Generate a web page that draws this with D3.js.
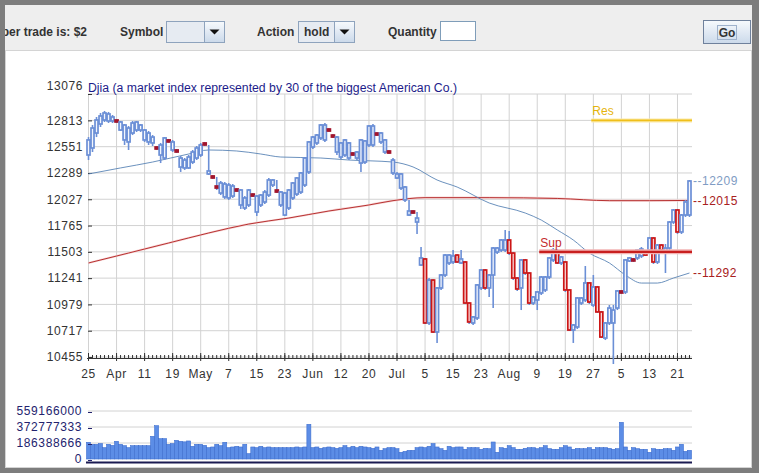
<!DOCTYPE html>
<html lang="en">
<head>
  <meta charset="UTF-8">
  <title>Djia</title>
  <script src="https://d3js.org/d3.v7.min.js"></script>
  <style>
    body { margin: 0; background: #7d7d7d; overflow: hidden; }
    svg { display: block; font-family: "Liberation Sans", Arial, sans-serif; }
  </style>
</head>
<body>
<svg id="chart" width="759" height="473"></svg>
<script>
// daily candles (Djia)
const open = [
  12468,12538,12687,12777,12817,12807,12807,12817,12717,12618,
  12598,12687,12717,12717,12618,12598,12588,12548,12468,12438,
  12618,12518,12518,12348,12339,12339,12398,12438,12468,12588,
  12279,12259,12159,12089,12050,12040,12059,12129,11970,11940,
  11970,12079,11900,11970,12000,12069,12169,12119,11970,11870,
  11940,12040,12079,12099,12169,12299,12548,12588,12638,12618,
  12727,12667,12498,12448,12468,12438,12488,12438,12388,12398,
  12568,12568,12687,12598,12498,12508,
  12289,12239,12139,12020,11870,11910,11800,11372,11432,10794,
  11222,10704,11143,11272,11392,11402,
  11471,11392,11402,10993,10794,10844,11143,11322,11143,11272,
  11501,11521,11521,11621,11491,11242,11143,11422,11292,10993,
  11023,11093,11123,11252,11422,11501,11392,11402,11123,10724,
  10754,10993,11023,11193,10973,11153,10904,10644,10794,10794,
  10943,11113,11103,11412,11432,11442,11462,
  11511,11521,11641,11402,11571,11501,11541,11800,11920,11701,11870,11870
];
const high = [
  12647,12767,12847,12887,12907,12897,12867,12827,12807,12777,
  12757,12807,12807,12777,12727,12707,12667,12558,12588,12647,
  12628,12618,12528,12458,12438,12468,12518,12558,12588,12598,
  12568,12269,12249,12209,12199,12189,12179,12139,12129,12059,
  12129,12089,12069,12079,12119,12239,12229,12219,12109,12099,
  12129,12199,12249,12299,12448,12608,12657,12677,12777,12787,
  12737,12677,12657,12598,12628,12598,12498,12508,12628,12618,
  12767,12777,12697,12697,12628,12518,
  12438,12299,12289,12159,12020,11920,11900,11551,11442,11242,
  11232,11153,11282,11481,11481,11521,
  11481,11521,11412,11003,10864,11183,11332,11332,11282,11551,
  11551,11631,11721,11711,11501,11252,11432,11432,11302,11063,
  11113,11262,11262,11452,11541,11531,11462,11412,11133,10784,
  11053,11053,11362,11202,11272,11163,10914,10804,10973,10973,
  11123,11123,11432,11452,11442,11531,11551,
  11521,11651,11651,11581,11581,11581,11810,11930,11930,11880,12020,12219
];
const low = [
  12418,12498,12647,12747,12797,12787,12787,12787,12707,12568,
  12518,12667,12697,12697,12598,12568,12558,12518,12388,12418,
  12588,12498,12488,12299,12319,12329,12378,12418,12448,12558,
  12269,12229,12119,12069,12030,12020,12040,12099,11930,11920,
  11950,12050,11860,11950,11980,12050,12149,12089,11950,11860,
  11920,12020,12059,12079,12149,12279,12528,12568,12618,12598,
  12697,12638,12468,12428,12448,12418,12458,12418,12299,12378,
  12548,12548,12657,12578,12478,12478,
  12269,12229,12119,12000,11860,11880,11681,11362,10784,10774,
  10694,10595,11123,11252,11372,11382,
  11392,11382,10983,10784,10774,10824,11123,11123,11053,10943,
  11481,11501,11501,11471,11222,11113,10923,11272,10973,10973,
  10923,11073,11103,11232,11402,11382,11372,11103,10714,10595,
  10734,10973,11003,10983,10953,10894,10644,10624,10774,10385,
  10923,11083,11083,11402,11402,11422,11442,
  11462,11501,11382,11382,11501,11292,11521,11780,11681,11681,11850,11850
];
const close = [
  12618,12737,12817,12857,12887,12877,12847,12797,12797,12767,
  12737,12787,12797,12767,12717,12687,12647,12528,12568,12638,
  12598,12598,12498,12438,12418,12448,12498,12538,12568,12568,
  12309,12239,12139,12189,12179,12169,12159,12109,12119,12040,
  12119,12059,12059,12069,12099,12219,12219,12099,12099,12089,
  12119,12189,12239,12289,12438,12598,12647,12667,12767,12767,
  12707,12647,12647,12588,12618,12588,12468,12498,12618,12608,
  12757,12757,12667,12687,12618,12488,
  12418,12279,12279,12149,11910,11890,11840,11442,10794,11222,
  10704,11143,11272,11471,11471,11462,
  11402,11432,10993,10804,10854,11173,11322,11143,11272,11541,
  11541,11621,11621,11491,11242,11133,11422,11292,10993,11053,
  11103,11252,11252,11442,11521,11392,11452,11123,10724,10774,
  11043,11043,11193,11003,11153,10904,10654,10794,10943,10923,
  11113,11093,11422,11442,11412,11521,11531,
  11471,11641,11402,11571,11521,11541,11800,11920,11701,11870,12000,12209
];
// volume in millions of shares
const volumeM = [
  194,171,171,179,132,171,159,206,171,155,
  132,155,155,155,155,155,264,388,237,237,
  171,179,217,206,200,210,148,171,171,159,
  132,140,171,155,194,132,140,148,140,171,
  62,140,132,148,132,140,132,132,132,132,
  132,132,140,132,140,404,132,140,124,132,
  140,132,124,132,155,132,148,132,148,140,
  132,124,140,101,120,132,132,120,78,89,
  101,101,132,140,132,148,179,140,120,101,
  148,132,140,140,113,132,132,132,113,124,
  120,198,78,132,124,155,132,113,113,124,
  132,132,120,132,155,120,113,113,132,155,
  140,113,124,120,120,132,113,132,132,132,
  124,113,120,427,140,101,132,120,113,113,
  78,120,113,113,120,120,101,140,171,89,
  101
];

// moving averages, read at sample days
const maFastIdx = [0, 8, 16, 25, 30, 37, 43, 48, 58, 65, 76, 81, 87, 92, 100, 109, 113, 117, 121, 125, 130, 134, 138, 142, 146, 150];
const maFast = [12279, 12339, 12398, 12478, 12518, 12508, 12478, 12448, 12438, 12418, 12398, 12349, 12219, 12149, 11990, 11890, 11820, 11721, 11621, 11491, 11392, 11272, 11192, 11192, 11242, 11292];
const maSlowIdx = [0, 10, 20, 30, 40, 50, 60, 70, 76, 84, 100, 117, 130, 140, 150];
const maSlow = [11392, 11491, 11591, 11691, 11780, 11840, 11910, 11970, 12013, 12043, 12043, 12035, 12013, 12013, 12015];

const supLevel = 11503, supStart = 113;
const resLevel = 12813, resStart = 126;
const endValues = [12209, 12015, 11292];

const priceTicks = [10455, 10717, 10979, 11241, 11503, 11765, 12027, 12289, 12551, 12813, 13076];
const volTicks = [0, 186388666, 372777333, 559166000];
const majorIdx = d3.range(0, 148, 7);
const tickLabels = ["25","Apr","11","19","May","7","15","23","Jun","12","20","Jul","5","15","23","Aug","9","19","27","5","13","21"];

const svg = d3.select("#chart");
const defs = svg.append("defs");

// ---- window frame + toolbar ----
svg.append("rect").attr("width", 759).attr("height", 473).attr("fill", "#7d7d7d");
svg.append("rect").attr("x", 5).attr("y", 5).attr("width", 747).attr("height", 45).attr("fill", "#eeeeee");
svg.append("rect").attr("x", 5.5).attr("y", 50.5).attr("width", 746).attr("height", 417)
  .attr("fill", "#fff").attr("stroke", "#d4d4d4");

defs.append("clipPath").attr("id", "barClip")
  .append("rect").attr("x", 5).attr("y", 5).attr("width", 747).attr("height", 45);

const btnGrad = defs.append("linearGradient").attr("id", "btnGrad").attr("x2", 0).attr("y2", 1);
btnGrad.append("stop").attr("offset", 0).attr("stop-color", "#f7fafd");
btnGrad.append("stop").attr("offset", 1).attr("stop-color", "#cbd9ea");

const bar = svg.append("g").attr("clip-path", "url(#barClip)")
  .attr("font-size", 12).attr("font-weight", "bold").attr("fill", "#333");

bar.append("text").attr("x", 87).attr("y", 36).attr("text-anchor", "end").text("per trade is: $2");
bar.append("text").attr("x", 120).attr("y", 36).text("Symbol");
bar.append("text").attr("x", 257).attr("y", 36).text("Action");
bar.append("text").attr("x", 388).attr("y", 36).text("Quantity");

function combo(x0, fieldW, btnW, label) {
  const g = bar.append("g");
  g.append("rect").attr("x", x0 + 0.5).attr("y", 21.5).attr("width", fieldW).attr("height", 21)
    .attr("fill", "#e6ebf2").attr("stroke", "#8ea3bd");
  g.append("rect").attr("x", x0 + fieldW + 0.5).attr("y", 21.5).attr("width", btnW).attr("height", 21)
    .attr("fill", "url(#btnGrad)").attr("stroke", "#8ea3bd");
  const ax = x0 + fieldW + btnW / 2 + 0.5;
  g.append("path").attr("d", `M${ax - 5},29.5h10l-5,5z`).attr("fill", "#111");
  if (label) g.append("text").attr("x", x0 + 6).attr("y", 36).text(label);
}
combo(166, 38, 20, "");
combo(298, 36, 20, "hold");

bar.append("rect").attr("x", 440.5).attr("y", 21.5).attr("width", 35).attr("height", 19)
  .attr("fill", "#fff").attr("stroke", "#7f9db9");

bar.append("rect").attr("x", 703.5).attr("y", 20.5).attr("width", 47).attr("height", 23)
  .attr("fill", "url(#btnGrad)").attr("stroke", "#6f819c");
bar.append("rect").attr("x", 717.5).attr("y", 25.5).attr("width", 19).attr("height", 14)
  .attr("fill", "none").attr("stroke", "#9fb2cc");
bar.append("text").attr("x", 727).attr("y", 37).attr("text-anchor", "middle").text("Go");

// ---- price chart ----
const n = close.length;
const x = d3.scaleBand().domain(d3.range(n)).range([86.5, 691.5]);
const y = d3.scaleLinear().domain([10455, 13076]).range([357, 94]);
const bw = x.bandwidth();
const cx = i => x(i) + bw / 2;

const plot = svg.append("g");

// grid
plot.append("g").selectAll("line").data(priceTicks).join("line")
  .attr("x1", 88).attr("x2", 692).attr("y1", d => y(d)).attr("y2", d => y(d))
  .attr("stroke", "#d2d2d2");
plot.append("g").selectAll("line").data(majorIdx).join("line")
  .attr("x1", cx).attr("x2", cx).attr("y1", 94).attr("y2", 357)
  .attr("stroke", "#d2d2d2");

plot.append("text").attr("x", 88).attr("y", 92).attr("fill", "#1c1c8a").attr("font-size", 12)
  .attr("textLength", 369).attr("lengthAdjust", "spacingAndGlyphs")
  .text("Djia (a market index represented by 30 of the biggest American Co.)");

// y axis
plot.append("g").attr("transform", "translate(88,0)")
  .call(d3.axisLeft(y).tickValues(priceTicks).tickSizeInner(-4).tickSizeOuter(0).tickPadding(5).tickFormat(d3.format("d")))
  .attr("font-size", 12).attr("font-family", null).attr("color", "#333")
  .call(g => g.select(".domain").remove())
  .call(g => g.selectAll(".tick text").attr("letter-spacing", "0.6px"))
  .call(g => g.selectAll(".tick text").filter(d => d === 13076).attr("y", -8));

// x axis: minor ticks every day, major ticks with labels
plot.append("g").attr("transform", "translate(0,358)")
  .call(d3.axisTop(x).tickSizeInner(3).tickSizeOuter(0).tickFormat(""))
  .attr("color", "#333");
plot.append("g").attr("transform", "translate(0,353)")
  .call(d3.axisBottom(x).tickValues(majorIdx).tickSizeInner(8).tickSizeOuter(0).tickPadding(8)
    .tickFormat((d, i) => tickLabels[i]))
  .attr("font-size", 12).attr("font-family", null).attr("color", "#333")
  .call(g => g.select(".domain").remove())
  .call(g => g.selectAll(".tick text").attr("letter-spacing", "0.6px"));

// moving averages
const slowLine = d3.line().x((d, i) => cx(maSlowIdx[i])).y(d => y(d)).curve(d3.curveMonotoneX);
plot.append("path").attr("d", slowLine(maSlow)).attr("fill", "none").attr("stroke", "#f7d4d4").attr("stroke-width", 2.2);
plot.append("path").attr("d", slowLine(maSlow)).attr("fill", "none").attr("stroke", "#b02020").attr("stroke-width", 0.9);
const fastLine = d3.line().x((d, i) => cx(maFastIdx[i])).y(d => y(d)).curve(d3.curveMonotoneX);
plot.append("path").attr("d", fastLine(maFast)).attr("fill", "none").attr("stroke", "#5a84b6").attr("stroke-width", 0.9);

// candles
const days = d3.range(n);
plot.append("g").selectAll("line").data(days).join("line")
  .attr("x1", cx).attr("x2", cx)
  .attr("y1", i => y(high[i])).attr("y2", i => y(low[i]))
  .attr("stroke", "#6b8fd6").attr("stroke-width", 1.6);

plot.append("g").selectAll("rect").data(days).join("rect")
  .each(function (i) {
    const up = close[i] >= open[i];
    const top = y(Math.max(open[i], close[i]));
    const h = Math.abs(y(open[i]) - y(close[i]));
    const tick = !up && h < 3;
    d3.select(this)
      .attr("x", x(i) + 0.5).attr("width", bw - 1)
      .attr("y", top).attr("height", Math.max(h, 1.5))
      .attr("fill", up ? "#f3f6fd" : tick ? "#a3152c" : "#f7d6d6")
      .attr("stroke", up ? "#6b8fd6" : tick ? "#a3152c" : "#cc1616")
      .attr("stroke-width", 1.7);
  });

// support / resistance
plot.append("line").attr("x1", x(supStart)).attr("x2", 692).attr("y1", y(supLevel)).attr("y2", y(supLevel))
  .attr("stroke", "#f2b3b3").attr("stroke-width", 5);
plot.append("line").attr("x1", x(supStart)).attr("x2", 692).attr("y1", y(supLevel)).attr("y2", y(supLevel))
  .attr("stroke", "#c81f1f").attr("stroke-width", 2.2);
plot.append("text").attr("x", x(supStart) + 1).attr("y", y(supLevel) - 5)
  .attr("fill", "#c42c2c").attr("font-size", 12).text("Sup");

plot.append("line").attr("x1", x(resStart)).attr("x2", 692).attr("y1", y(resLevel)).attr("y2", y(resLevel))
  .attr("stroke", "#fbeaa8").attr("stroke-width", 4);
plot.append("line").attr("x1", x(resStart)).attr("x2", 692).attr("y1", y(resLevel)).attr("y2", y(resLevel))
  .attr("stroke", "#f0bf1a").attr("stroke-width", 1.8);
plot.append("text").attr("x", x(resStart) + 1).attr("y", y(resLevel) - 5)
  .attr("fill", "#e6b40c").attr("font-size", 12).text("Res");

// last values
const endColors = ["#7f9cc4", "#a82020", "#a82020"];
plot.append("g").selectAll("text").data(endValues).join("text")
  .attr("x", 693).attr("y", d => y(d)).attr("dy", "0.35em")
  .attr("font-size", 12).attr("letter-spacing", "0.5px")
  .attr("fill", (d, i) => endColors[i])
  .text(d => "--" + d);

// ---- volume ----
const yV = d3.scaleLinear().domain([0, 559166000]).range([459, 411]);

plot.append("g").selectAll("line").data(volTicks.slice(1)).join("line")
  .attr("x1", 88).attr("x2", 692).attr("y1", d => yV(d)).attr("y2", d => yV(d))
  .attr("stroke", "#d2d2d2");

plot.append("g").selectAll("rect").data(days).join("rect")
  .attr("x", i => x(i)).attr("width", bw)
  .attr("y", i => yV(volumeM[i] * 1e6)).attr("height", i => yV(0) - yV(volumeM[i] * 1e6))
  .attr("fill", "#5c8de6").attr("stroke", "#3f6fcf").attr("stroke-width", 0.6);

plot.append("line").attr("x1", 86).attr("x2", 692).attr("y1", 462.5).attr("y2", 462.5)
  .attr("stroke", "#1b1b52").attr("stroke-width", 2);

plot.append("g").attr("transform", "translate(88,0)")
  .call(d3.axisLeft(yV).tickValues(volTicks).tickSizeInner(-4).tickSizeOuter(0).tickPadding(6).tickFormat(d3.format("d")))
  .attr("font-size", 12).attr("font-family", null).attr("color", "#23236e")
  .call(g => g.select(".domain").remove())
  .call(g => g.selectAll(".tick line").attr("transform", "translate(0,1)"))
  .call(g => g.selectAll(".tick text").attr("letter-spacing", "0.6px"));
</script>
</body>
</html>
